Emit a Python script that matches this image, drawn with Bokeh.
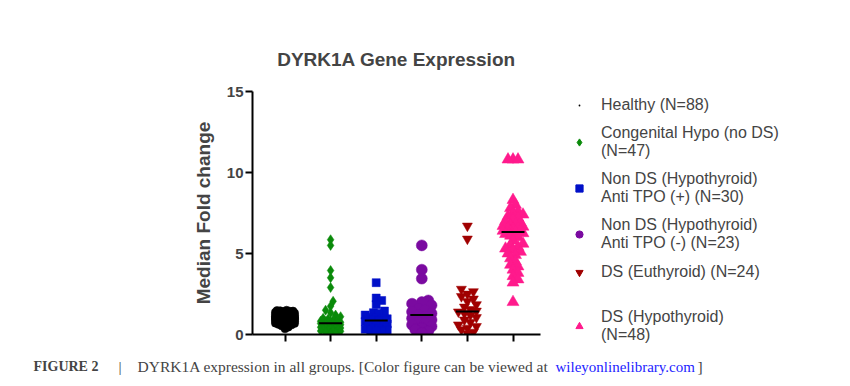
import math
import numpy as np
from bokeh.plotting import figure
from bokeh.layouts import column, row
from bokeh.models import Range1d, FixedTicker, Label, Legend, LegendItem, ColumnDataSource
from bokeh.embed import file_html
from bokeh.resources import INLINE

# ---------------- data ----------------
groups = ["Healthy (N=88)",
          "Congenital Hypo (no DS)\n(N=47)",
          "Non DS (Hypothyroid)\nAnti TPO (+) (N=30)",
          "Non DS (Hypothyroid)\nAnti TPO (-) (N=23)",
          "DS (Euthyroid) (N=24)",
          "DS (Hypothyroid)\n(N=48)"]
positions = [1, 2, 3, 4, 5, 6]
y_ticks = [0, 5, 10, 15]

healthy = [0.35, 0.45, 0.52, 0.58, 0.62, 0.66, 0.70, 0.72, 0.74, 0.76,
           0.78, 0.80, 0.81, 0.82, 0.84, 0.85, 0.86, 0.87, 0.88, 0.89,
           0.90, 0.90, 0.91, 0.92, 0.93, 0.93, 0.94, 0.95, 0.95, 0.96,
           0.97, 0.97, 0.98, 0.98, 0.99, 0.99, 1.00, 1.00, 1.00, 1.01,
           1.01, 1.02, 1.02, 1.03, 1.03, 1.04, 1.04, 1.05, 1.05, 1.06,
           1.06, 1.07, 1.08, 1.08, 1.09, 1.10, 1.10, 1.11, 1.12, 1.13,
           1.14, 1.15, 1.16, 1.17, 1.18, 1.19, 1.20, 1.21, 1.22, 1.24,
           1.25, 1.27, 1.28, 1.30, 1.32, 1.33, 1.35, 1.36, 1.38, 1.40,
           1.42, 1.44, 1.45, 1.47, 1.48, 1.50, 0.55, 0.68]
congenital = [5.85, 5.5, 3.95, 3.5, 2.9, 2.05, 1.75, 1.5, 1.35, 1.2,
              1.1, 1.0, 0.95, 0.9, 0.85, 0.82, 0.8, 0.78, 0.76, 0.75,
              0.73, 0.72, 0.71, 0.70,
              0.68, 0.65, 0.62, 0.6, 0.57, 0.55, 0.52, 0.5, 0.48, 0.45,
              0.42, 0.4, 0.38, 0.35, 0.32, 0.3, 0.27, 0.25, 0.22, 0.2,
              0.15, 0.1, 0.05]
tpo_pos = [3.2, 2.25, 2.1, 1.85, 1.45, 1.35, 1.3, 1.2, 1.05, 1.0,
           0.97, 0.95, 0.92, 0.9, 0.88,
           0.84, 0.8, 0.72, 0.65, 0.6, 0.55, 0.5, 0.45, 0.4, 0.35,
           0.32, 0.28, 0.25, 0.22, 0.2]
tpo_neg = [5.5, 4.0, 3.45, 2.1, 2.0, 1.9, 1.8, 1.6, 1.5, 1.4, 1.3,
           1.2,
           1.1, 1.0, 0.9, 0.8, 0.7, 0.6, 0.5, 0.4, 0.3, 0.2, 0.1]
ds_eu = [6.7, 5.9, 2.8, 2.65, 2.5, 2.35, 2.2, 2.05, 1.85, 1.7, 1.55, 1.45,
         1.4, 1.3, 1.2, 1.05, 0.9, 0.75, 0.6, 0.5, 0.4, 0.3, 0.15, 0.05]
ds_hypo = [10.8, 10.8, 10.8, 8.3, 8.0, 7.8, 7.6, 7.5, 7.4, 7.3, 7.2, 7.1,
           7.0, 6.9, 6.8, 6.75, 6.7, 6.65, 6.6, 6.55, 6.5, 6.45, 6.4, 6.35,
           6.3, 6.25, 6.2, 6.1, 6.0, 5.8, 5.6, 5.5, 5.4, 5.3, 5.2, 5.1,
           5.0, 4.9, 4.7, 4.5, 4.3, 4.2, 4.0, 3.8, 3.6, 3.4, 3.2, 2.0]
series = [healthy, congenital, tpo_pos, tpo_neg, ds_eu, ds_hypo]

colors = ["#000000", "#0a8a0a", "#0010c8", "#7a0aa0", "#a00000", "#ff1a8c"]
markers = ["circle", "diamond", "square", "circle", "inverted_triangle", "triangle"]
legend_markers = ["dot", "diamond", "square", "circle", "inverted_triangle", "triangle"]
sizes = [8, 10, 8, 11, 10, 12]
coll = [3.2, 5.0, 5.5, 6.5, 6.0, 5.0]
maxw = [11, 11, 11, 10, 11, 10]

# ---------------- geometry ----------------
PW, PH = 545, 352
FL, FR, FT, FB = 252, 5, 91, 18
fw = PW - FL - FR
fh = PH - FT - FB
x0 = 1 - 32.5 / 45.6
x1 = x0 + fw / 45.6
XS = fw / (x1 - x0)
YS = fh / 15.0


def swarm(vals, d, mw):
    order = np.argsort(vals, kind="stable")
    placed = []
    offs = [0.0] * len(vals)
    step = d * 0.5
    cands = [0.0]
    j = 1
    while j * step <= mw:
        cands += [j * step, -j * step]
        j += 1
    for i in order:
        y = vals[i] * YS
        best = None
        bestc, bestscore = 0.0, -1
        for c in cands:
            mind = min((math.hypot(c - px, y - py) for px, py in placed), default=1e9)
            if mind >= d:
                best = c
                break
            if mind > bestscore:
                bestscore, bestc = mind, c
        if best is None:
            best = bestc
        placed.append((best, y))
        offs[i] = best / XS
    return offs


p = figure(width=PW, height=PH, output_backend="svg", toolbar_location=None,
           x_range=Range1d(x0, x1), y_range=Range1d(0, 15),
           min_border_left=FL, min_border_right=FR, min_border_top=FT,
           min_border_bottom=FB)
p.frame_align = False
p.outline_line_color = None
p.grid.visible = False
p.background_fill_color = "white"
p.border_fill_color = "white"

p.title.text = "DYRK1A Gene Expression"
p.title.align = "center"
p.title.text_font = "Liberation Sans"
p.title.text_font_style = "bold"
p.title.text_font_size = "19px"
p.title.standoff = 43

for k, vals in enumerate(series):
    offs = swarm(vals, coll[k], maxw[k])
    src = ColumnDataSource(dict(x=[positions[k] + o for o in offs], y=vals))
    p.scatter("x", "y", source=src, marker=markers[k], size=sizes[k],
              fill_color=colors[k], line_color=colors[k], line_width=0.5)

med = [float(np.median(v)) for v in series]
half = 11.5 / XS
p.segment(x0=[q - half for q in positions], x1=[q + half for q in positions],
          y0=med, y1=med, line_color="black", line_width=2)

ya = p.yaxis[0]
ya.ticker = FixedTicker(ticks=y_ticks)
ya.axis_label = "Median Fold change"
ya.axis_label_text_font = "Liberation Sans"
ya.axis_label_text_font_style = "bold"
ya.axis_label_text_font_size = "19px"
ya.axis_label_standoff = 10
ya.major_label_text_font = "Liberation Sans"
ya.major_label_text_font_style = "bold"
ya.major_label_text_font_size = "15px"
ya.axis_line_width = 2
ya.major_tick_line_width = 2
ya.major_tick_out = 7
ya.major_tick_in = 0
ya.minor_tick_line_color = None
ya.major_label_standoff = 2

xa = p.xaxis[0]
xa.ticker = FixedTicker(ticks=positions)
xa.major_label_overrides = {q: "" for q in positions}
xa.major_label_text_font_size = "1px"
xa.major_label_standoff = 0
xa.axis_line_width = 2
xa.major_tick_line_width = 2
xa.major_tick_out = 7
xa.major_tick_in = 0
xa.minor_tick_line_color = None

# ---------------- legend panel ----------------
LW = 842 - PW
lf = figure(width=LW, height=PH, output_backend="svg", toolbar_location=None,
            title=None, x_range=Range1d(0, LW), y_range=Range1d(0, PH),
            min_border=0, x_axis_location=None, y_axis_location=None)
lf.frame_align = False
lf.outline_line_color = None
lf.grid.visible = False
lrs = []
for k in range(6):
    lrs.append(lf.scatter(x=[np.nan], y=[np.nan], marker=legend_markers[k],
                          fill_color=colors[k], line_color=colors[k],
                          line_width=2 if k == 0 else 1))

common = dict(border_line_color=None, background_fill_alpha=0, padding=0, margin=0,
              spacing=10, glyph_width=20, glyph_height=18, label_standoff=12,
              label_text_font="Liberation Sans", label_text_font_size="16px",
              label_text_line_height=1.2, label_height=19)
leg1 = Legend(items=[LegendItem(label=groups[i], renderers=[lrs[i]]) for i in range(5)],
              location=(24, 71), **common)
leg2 = Legend(items=[LegendItem(label=groups[5], renderers=[lrs[5]])],
              location=(24, 8), **common)
lf.add_layout(leg1)
lf.add_layout(leg2)

# ---------------- caption ----------------
CH = 26
cf = figure(width=842, height=CH, output_backend="svg", toolbar_location=None,
            title=None, x_range=Range1d(0, 842), y_range=Range1d(0, CH),
            min_border=0, x_axis_location=None, y_axis_location=None)
cf.frame_align = False
cf.outline_line_color = None
cf.grid.visible = False
cap = dict(y=12, text_baseline="middle", text_font="Liberation Serif", text_font_size="15.5px")
cf.add_layout(Label(x=33, text="FIGURE 2", text_font_style="bold", **{**cap, "text_font_size": "14px"}))
cf.add_layout(Label(x=118, text="|", **cap))
cf.add_layout(Label(x=137, text="DYRK1A expression in all groups. [Color figure can be viewed at", **cap))
cf.add_layout(Label(x=555, text="wileyonlinelibrary.com", text_color="#2323ff",
                    **{**cap, "text_font_size": "15px"}))
cf.add_layout(Label(x=697, text="]", **cap))

layout = column(row(p, lf, spacing=0), cf, spacing=0)
open("out.html", "w").write(file_html(layout, INLINE))
